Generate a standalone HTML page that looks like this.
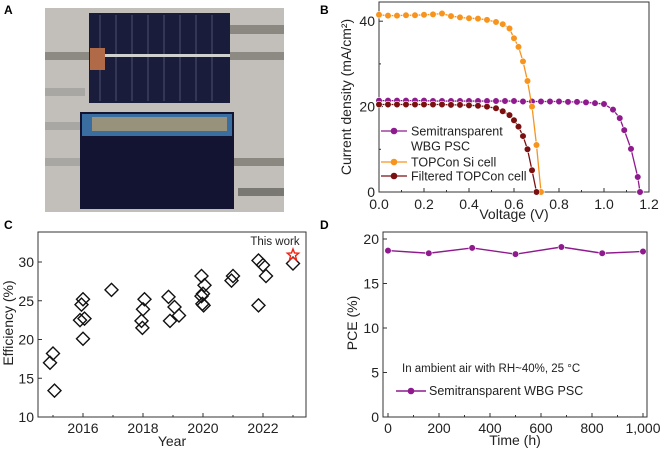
<!DOCTYPE html>
<html><head><meta charset="utf-8"><style>
body{margin:0;background:#fff;width:660px;height:453px;overflow:hidden}
svg{font-family:"Liberation Sans",Arial,sans-serif}
</style></head><body>
<svg id="fig" width="660" height="453" viewBox="0 0 660 453" xmlns="http://www.w3.org/2000/svg">
<g font-weight="bold" font-size="12">
<text x="4" y="14">A</text>
<text x="320" y="14">B</text>
<text x="4" y="229">C</text>
<text x="320" y="229">D</text>
</g>
<g>
<rect x="45" y="8" width="239" height="204" fill="#c2bfba"/>
<rect x="45" y="52" width="50" height="8" fill="#8d8a84"/>
<rect x="228" y="52" width="56" height="8" fill="#8d8a84"/>
<rect x="228" y="25" width="56" height="9" fill="#8b8882"/>
<rect x="45" y="88" width="40" height="8" fill="#a9a7a3"/>
<rect x="45" y="122" width="40" height="8" fill="#a9a7a3"/>
<rect x="45" y="158" width="40" height="8" fill="#a9a7a3"/>
<rect x="232" y="158" width="52" height="8" fill="#8b8882"/>
<rect x="238" y="188" width="46" height="8" fill="#7a7873"/>
<rect x="89" y="13" width="141" height="90" fill="#1a1c3c"/>
<g stroke="#5a5e80" stroke-width="0.8">
<line x1="100" y1="15" x2="100" y2="101"/><line x1="116" y1="15" x2="116" y2="101"/><line x1="132" y1="15" x2="132" y2="101"/><line x1="148" y1="15" x2="148" y2="101"/><line x1="164" y1="15" x2="164" y2="101"/><line x1="180" y1="15" x2="180" y2="101"/><line x1="196" y1="15" x2="196" y2="101"/><line x1="212" y1="15" x2="212" y2="101"/>
</g>
<rect x="95" y="54" width="135" height="3" fill="#d0d0d0"/>
<rect x="90" y="48" width="15" height="22" fill="#b06a48"/>
<rect x="80" y="112" width="154" height="97" fill="#121432"/>
<rect x="82" y="114" width="150" height="22" fill="#3a6ea0"/>
<rect x="92" y="117" width="135" height="14" fill="#98927c"/>
</g>
<g id="pb"></g>
<g id="pc"></g>
<g id="pd"></g>
</svg>
<script>
const NS="http://www.w3.org/2000/svg";
// Panel B data
const voltPSC=[0,0.04,0.08,0.12,0.16,0.2,0.24,0.28,0.32,0.36,0.4,0.44,0.48,0.52,0.56,0.6,0.64,0.68,0.72,0.76,0.8,0.84,0.88,0.92,0.96,1.0,1.04,1.07,1.09,1.12,1.15,1.16];
const jPSC=[21.4,21.4,21.4,21.4,21.4,21.4,21.3,21.3,21.3,21.3,21.3,21.3,21.3,21.3,21.3,21.3,21.2,21.2,21.2,21.2,21.2,21.1,21.1,21.0,20.8,20.6,19.3,17.3,14.5,10.1,3.5,0];
const voltSi=[0,0.04,0.08,0.12,0.16,0.2,0.24,0.28,0.32,0.36,0.4,0.44,0.48,0.52,0.55,0.58,0.6,0.62,0.64,0.66,0.68,0.7,0.72];
const jSi=[41.5,41.3,41.3,41.4,41.4,41.5,41.6,41.8,41.2,40.9,40.7,40.6,40.3,39.8,39.3,38.3,36.0,34.0,30.6,26.0,20.0,11.0,0];
const voltFil=[0,0.04,0.08,0.12,0.16,0.2,0.24,0.28,0.32,0.36,0.4,0.44,0.48,0.52,0.55,0.58,0.6,0.62,0.64,0.66,0.68,0.7];
const jFil=[20.5,20.5,20.5,20.5,20.5,20.5,20.5,20.5,20.4,20.4,20.3,20.2,20.0,19.6,18.9,18.0,16.8,15.3,13.1,10.0,5.1,0];
const bXTicks=["0.0","0.2","0.4","0.6","0.8","1.0","1.2"];
const bYTicks=["0","20","40"];
// Panel C data
const year=[2015,2014.9,2015.05,2016,2015.95,2015.9,2016.05,2016,2016.95,2018.05,2018,2017.95,2017.98,2018.85,2019.05,2019.2,2018.9,2019.95,2020.05,2020,2019.95,2019.98,2020.02,2021,2020.95,2021.85,2022,2022.1,2021.85,2023];
const eff=[18.2,17.0,13.4,25.2,24.5,22.5,22.7,20.1,26.4,25.2,23.9,22.4,21.5,25.5,24.2,23.1,22.4,28.2,27.0,25.9,25.6,24.6,24.4,28.2,27.6,30.2,29.6,28.2,24.4,29.8];
const thisWork=[2023,30.9];
const cXTicks=["2016","2018","2020","2022"];
const cYTicks=["10","15","20","25","30"];
// Panel D data
const timeH=[0,160,330,500,680,840,1000];
const pce=[18.7,18.4,19.0,18.3,19.1,18.4,18.6];
const dXTicks=["0","200","400","600","800","1,000"];
const dYTicks=["0","5","10","15","20"];

const FS=14;
function el(p,tag,a,name,txt){const e=document.createElementNS(NS,tag);for(const k in a)e.setAttribute(k,a[k]);


if(txt!==undefined)e.textContent=txt;p.appendChild(e);return e;}

function axesBox(g,l,t,r,b,prefix){el(g,'rect',{x:l,y:t,width:r-l,height:b-t,fill:'none',stroke:'#333','stroke-width':1},prefix+'-frame');}

// Panel B
(function(){const g=document.getElementById('pb');
const L=379,R=649,T=2,B=192;const sx=v=>L+v/1.2*(R-L);const sy=j=>192-j*4.27;
axesBox(g,L,T,R,B,'b');
bXTicks.forEach(t=>{const v=parseFloat(t);el(g,'line',{x1:sx(v),y1:B,x2:sx(v),y2:B-4,stroke:'#333'},'b-x-tick');el(g,'text',{x:sx(v),y:B+17,'font-size':FS,'text-anchor':'middle',fill:'#222'},'b-x-tick-label',t);});
[0.1,0.3,0.5,0.7,0.9,1.1].forEach(v=>el(g,'line',{x1:sx(v),y1:B,x2:sx(v),y2:B-2,stroke:'#333'},'b-x-minor-tick'));
bYTicks.forEach(t=>{const v=+t;el(g,'line',{x1:L,y1:sy(v),x2:L+4,y2:sy(v),stroke:'#333'},'b-y-tick');el(g,'text',{x:L-4,y:sy(v)+5,'font-size':FS,'text-anchor':'end',fill:'#222'},'b-y-tick-label',t);});
[10,30].forEach(v=>el(g,'line',{x1:L,y1:sy(v),x2:L+2,y2:sy(v),stroke:'#333'},'b-y-minor-tick'));
el(g,'text',{x:0,y:0,'font-size':FS,'text-anchor':'middle',transform:'translate(351,97) rotate(-90)',fill:'#222'},'b-y-axis-title','Current density (mA/cm²)');
el(g,'text',{x:514,y:219,'font-size':FS,'text-anchor':'middle',fill:'#222'},'b-x-axis-title','Voltage (V)');
function series(V,J,col,name){el(g,'polyline',{points:V.map((v,i)=>sx(v)+','+sy(J[i])).join(' '),fill:'none',stroke:col,'stroke-width':1.3},name+'-line');
V.forEach((v,i)=>el(g,'circle',{cx:sx(v),cy:sy(J[i]),r:3.3,fill:col,stroke:'#fff','stroke-width':0.6},name+'-point'));}
series(voltPSC,jPSC,'#8e1a8e','psc');series(voltSi,jSi,'#f7941d','topcon');series(voltFil,jFil,'#7a1010','filtered-topcon');
const leg=[[131,'#8e1a8e','Semitransparent'],[162,'#f7941d','TOPCon Si cell'],[176,'#7a1010','Filtered TOPCon cell']];
leg.forEach(([y,c,t])=>{el(g,'line',{x1:381,y1:y,x2:407,y2:y,stroke:c,'stroke-width':1.3},'legend-line');el(g,'circle',{cx:394,cy:y,r:3.3,fill:c},'legend-marker');el(g,'text',{x:411,y:y+4.5,'font-size':12.5,fill:'#222'},'legend-entry',t);});
el(g,'text',{x:411,y:150.5,'font-size':12.5,fill:'#222'},'legend-entry','WBG PSC');
})();

// Panel C
(function(){const g=document.getElementById('pc');
const L=38,R=306,T=232,B=417;const sx=y=>83+(y-2016)*30;const sy=e=>417-(e-10)*7.75;
axesBox(g,L,T,R,B,'c');
cXTicks.forEach(t=>{const v=+t;el(g,'line',{x1:sx(v),y1:B,x2:sx(v),y2:B-4,stroke:'#333'},'c-x-tick');el(g,'text',{x:sx(v),y:B+16,'font-size':FS,'text-anchor':'middle',fill:'#222'},'c-x-tick-label',t);});
[2015,2017,2019,2021,2023].forEach(v=>el(g,'line',{x1:sx(v),y1:B,x2:sx(v),y2:B-2,stroke:'#333'},'c-x-minor-tick'));
cYTicks.forEach(t=>{const v=+t;el(g,'line',{x1:L,y1:sy(v),x2:L+4,y2:sy(v),stroke:'#333'},'c-y-tick');el(g,'text',{x:L-4,y:sy(v)+5,'font-size':FS,'text-anchor':'end',fill:'#222'},'c-y-tick-label',t);});
el(g,'text',{x:0,y:0,'font-size':FS,'text-anchor':'middle',transform:'translate(13,323) rotate(-90)',fill:'#222'},'c-y-axis-title','Efficiency (%)');
el(g,'text',{x:172,y:446,'font-size':FS,'text-anchor':'middle',fill:'#222'},'c-x-axis-title','Year');
year.forEach((y,i)=>{const x=sx(y),yy=sy(eff[i]);el(g,'polygon',{points:`${x},${yy-6.5} ${x+6.5},${yy} ${x},${yy+6.5} ${x-6.5},${yy}`,fill:'none',stroke:'#111','stroke-width':1.4},'c-diamond-point');});
const sx0=sx(thisWork[0]),sy0=sy(thisWork[1]);let pts=[];for(let k=0;k<10;k++){const a=-Math.PI/2+k*Math.PI/5,r=k%2?2.6:6;pts.push((sx0+r*Math.cos(a)).toFixed(1)+','+(sy0+r*Math.sin(a)).toFixed(1));}
el(g,'polygon',{points:pts.join(' '),fill:'none',stroke:'#e21',"stroke-width":1.4},'this-work-star');
el(g,'text',{x:275,y:245,'font-size':11.5,'text-anchor':'middle',fill:'#222'},'this-work-label','This work');
})();

// Panel D
(function(){const g=document.getElementById('pd');
const L=383,R=647,T=232,B=417;const sx=t=>388+t/1000*255;const sy=v=>417-v/20*178;
axesBox(g,L,T,R,B,'d');
dXTicks.forEach(t=>{const v=+t.replace(',','');el(g,'line',{x1:sx(v),y1:B,x2:sx(v),y2:B-4,stroke:'#333'},'d-x-tick');el(g,'text',{x:sx(v),y:B+16,'font-size':FS,'text-anchor':'middle',fill:'#222'},'d-x-tick-label',t);});
[100,300,500,700,900].forEach(v=>el(g,'line',{x1:sx(v),y1:B,x2:sx(v),y2:B-2,stroke:'#333'},'d-x-minor-tick'));
dYTicks.forEach(t=>{const v=+t;el(g,'line',{x1:L,y1:sy(v),x2:L+4,y2:sy(v),stroke:'#333'},'d-y-tick');el(g,'text',{x:L-4,y:sy(v)+5,'font-size':FS,'text-anchor':'end',fill:'#222'},'d-y-tick-label',t);});
el(g,'text',{x:0,y:0,'font-size':FS,'text-anchor':'middle',transform:'translate(357,323) rotate(-90)',fill:'#222'},'d-y-axis-title','PCE (%)');
el(g,'text',{x:515,y:445,'font-size':FS,'text-anchor':'middle',fill:'#222'},'d-x-axis-title','Time (h)');
el(g,'polyline',{points:timeH.map((t,i)=>sx(t)+','+sy(pce[i])).join(' '),fill:'none',stroke:'#8e1a8e','stroke-width':1.4},'d-pce-line');
timeH.forEach((t,i)=>el(g,'circle',{cx:sx(t),cy:sy(pce[i]),r:3.3,fill:'#8e1a8e',stroke:'#fff','stroke-width':0.6},'d-pce-point'));
el(g,'text',{x:402,y:372,'font-size':11.5,fill:'#222'},'d-condition-note','In ambient air with RH~40%, 25 °C');
el(g,'line',{x1:396,y1:391,x2:426,y2:391,stroke:'#8e1a8e','stroke-width':1.4},'d-legend-line');
el(g,'circle',{cx:411,cy:391,r:3.3,fill:'#8e1a8e'},'d-legend-marker');
el(g,'text',{x:429,y:395,'font-size':12.5,fill:'#222'},'d-legend-entry','Semitransparent WBG PSC');
})();
</script>
</body></html>
